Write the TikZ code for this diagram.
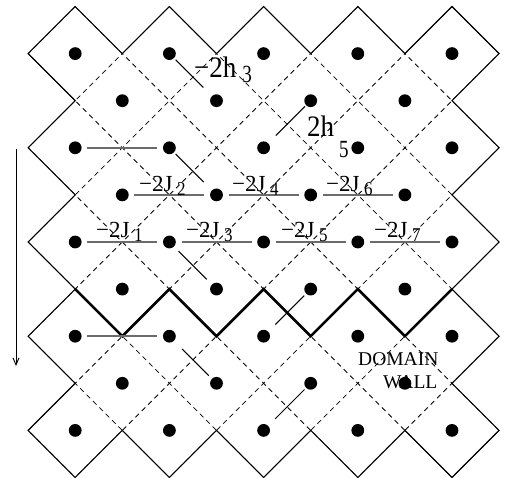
\documentclass[tikz,border=0pt]{standalone}
\usepackage{fontspec}
\usepackage{graphicx}
\setmainfont{Liberation Serif}
\usetikzlibrary{arrows.meta}
\newcommand\Jsub[1]{−2J\hspace{4.5pt}\raisebox{-4pt}{\fontsize{17}{17}\selectfont\scalebox{1}[1.15]{#1}}}
\newcommand\Hsub[4]{\scalebox{1}[1.1]{#1}\hspace{#2}\raisebox{-#3}{\fontsize{19}{19}\selectfont\scalebox{1}[1.3]{#4}}}
\begin{document}
\begin{tikzpicture}[x=1pt,y=-1pt,
  dot/.style={circle,fill=black,inner sep=0pt,minimum size=12.8pt},
  bound/.style={line width=1.1pt,line join=miter},
  dashline/.style={line width=0.8pt,dash pattern=on 5pt off 4pt},
  wall/.style={line width=2.6pt,line join=miter},
  glink/.style={line width=2pt,black!58,shorten <=5.5pt,shorten >=5.5pt},
  hlink/.style={line width=1pt},
  jlab/.style={anchor=base west,inner sep=0pt,font=\fontsize{23}{23}\selectfont},
  hlab/.style={anchor=base west,inner sep=0pt,font=\fontsize{27}{27}\selectfont},
  wlab/.style={anchor=base west,inner sep=0pt,font=\fontsize{19.5}{19.5}\selectfont}
]
\useasboundingbox (0,0) rectangle (506,478);
\begin{scope}[shift={(75.2,53.6)},x=47.1pt,y=-47.1pt]
  % dashed interior lines, clipped to the tiled region
  \begin{scope}
    \clip (-1,0) -- (0,-1) -- (1,0) -- (2,-1) -- (3,0) -- (4,-1) -- (5,0) -- (6,-1) -- (7,0) -- (8,-1) -- (9,0)
      -- (8,1) -- (9,2) -- (8,3) -- (9,4) -- (8,5) -- (9,6) -- (8,7) -- (9,8)
      -- (8,9) -- (7,8) -- (6,9) -- (5,8) -- (4,9) -- (3,8) -- (2,9) -- (1,8) -- (0,9) -- (-1,8)
      -- (0,7) -- (-1,6) -- (0,5) -- (-1,4) -- (0,3) -- (-1,2) -- (0,1) -- cycle;
    \foreach \c in {-9,-7,...,9}{
      \draw[dashline] (\c-1,-1) -- (\c+10,10);
    }
    \foreach \c in {-1,1,...,17}{
      \draw[dashline] (\c+1,-1) -- (\c-10,10);
    }
  \end{scope}
  % outer boundary
  \draw[bound] (-1,0) -- (0,-1) -- (1,0) -- (2,-1) -- (3,0) -- (4,-1) -- (5,0) -- (6,-1) -- (7,0) -- (8,-1) -- (9,0)
      -- (8,1) -- (9,2) -- (8,3) -- (9,4) -- (8,5) -- (9,6) -- (8,7) -- (9,8)
      -- (8,9) -- (7,8) -- (6,9) -- (5,8) -- (4,9) -- (3,8) -- (2,9) -- (1,8) -- (0,9) -- (-1,8)
      -- (0,7) -- (-1,6) -- (0,5) -- (-1,4) -- (0,3) -- (-1,2) -- (0,1) -- cycle;
  % domain wall
  \draw[wall] (0,5) -- (1,6) -- (2,5) -- (3,6) -- (4,5) -- (5,6) -- (6,5) -- (7,6) -- (8,5);
  % spins
  \foreach \i in {0,...,8}{
    \foreach \j in {0,...,8}{
      \pgfmathtruncatemacro\pp{mod(\i+\j,2)}
      \ifnum\pp=0 \node[dot] (d\i\j) at (\i,\j) {};\fi
    }
  }
\end{scope}
% couplings (grey)
\draw[glink] (d02) -- (d22);
\draw[glink] (d13) -- (d33);
\draw[glink] (d33) -- (d53);
\draw[glink] (d53) -- (d73);
\draw[glink] (d04) -- (d24);
\draw[glink] (d24) -- (d44);
\draw[glink] (d44) -- (d64);
\draw[glink] (d64) -- (d84);
\draw[glink] (d06) -- (d26);
% diagonal links
\draw[hlink,shorten <=2.2pt,shorten >=12pt] (d20) -- (d31);
\draw[hlink,shorten <=2.2pt,shorten >=11.5pt] (d22) -- (d33);
\draw[hlink,shorten <=1.5pt,shorten >=10.7pt] (d51) -- (d42);
\draw[hlink,shorten <=6.4pt,shorten >=7.2pt] (d24) -- (d35);
\draw[hlink,shorten <=2.5pt,shorten >=10pt] (d55) -- (d46);
\draw[hlink,shorten <=11.4pt,shorten >=4.3pt] (d26) -- (d37);
\draw[hlink,shorten <=2.3pt,shorten >=9.7pt] (d57) -- (d48);
% labels
\node[hlab] (h3) at (194,78) {\Hsub{−2h}{6pt}{5pt}{3}};
\node[hlab] (h5) at (307,137) {\Hsub{2h}{5pt}{21pt}{5}};
\node[jlab] (j2) at (139,192) {\Jsub{2}};
\node[jlab] (j4) at (232,192) {\Jsub{4}};
\node[jlab] (j6) at (326,192) {\Jsub{6}};
\node[jlab] (j1) at (96,238) {\Jsub{1}};
\node[jlab] (j3) at (186,238) {\Jsub{3}};
\node[jlab] (j5) at (281,238) {\Jsub{5}};
\node[jlab] (j7) at (374,238) {\Jsub{7}};
\node[wlab] (dw1) at (358,365) {DOMAIN};
\node[wlab] (dw2) at (383,388) {WALL};
% time arrow
\coordinate (atop) at (16,149);
\coordinate (abot) at (16,366);
\draw[line width=0.9pt,-{Straight Barb[length=7pt,width=6pt]}] (atop) -- (abot);
\end{tikzpicture}
\end{document}
